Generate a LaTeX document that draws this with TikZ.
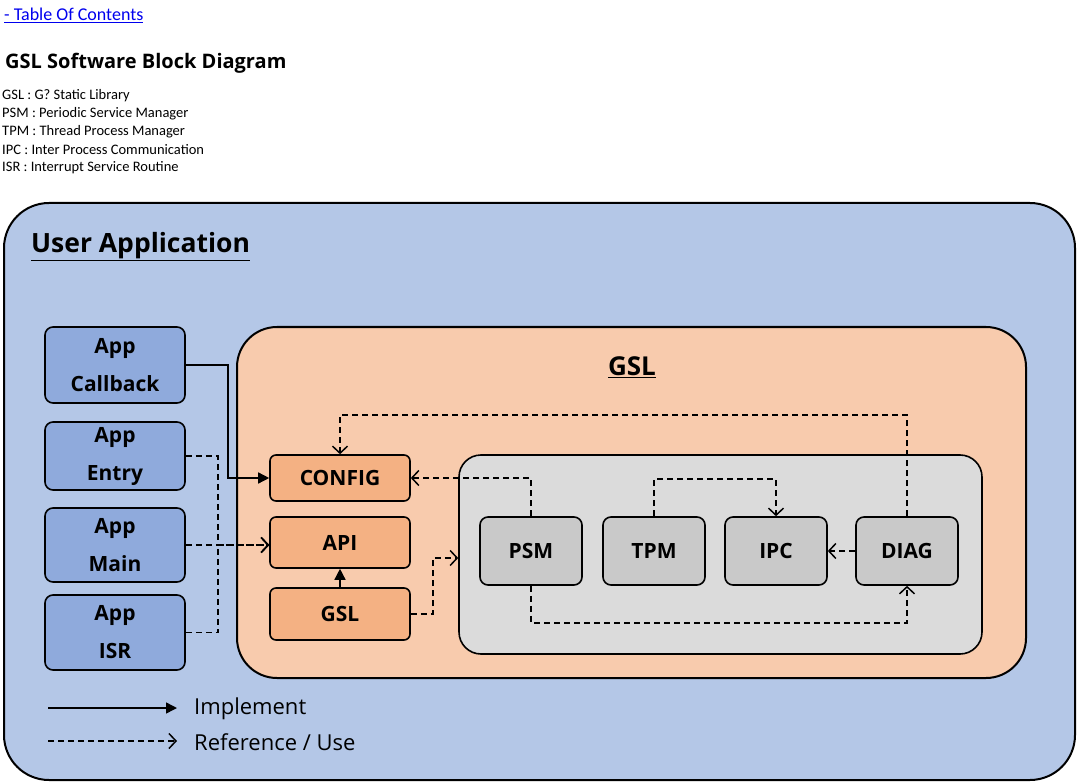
\documentclass[tikz,border=0pt]{standalone}
\usepackage{fontspec}
\setmainfont{Open Sans}
\newfontfamily\carlito{Carlito}
\usetikzlibrary{arrows.meta}
\newcommand{\fsz}[2]{\fontsize{#1}{#2}\selectfont}
\definecolor{uafill}{HTML}{B4C7E7}
\definecolor{appfill}{HTML}{8FAADC}
\definecolor{gslfill}{HTML}{F8CBAD}
\definecolor{modfill}{HTML}{F4B183}
\definecolor{corefill}{HTML}{DBDBDB}
\definecolor{subfill}{HTML}{C9C9C9}
\definecolor{linkblue}{HTML}{0000EE}

\begin{document}
\begin{tikzpicture}[x=1pt,y=-1pt,
  frame/.style={draw,line width=1.6pt},
  appbox/.style={frame,rounded corners=8pt,fill=appfill,minimum width=140pt,
    align=center,inner sep=0pt,font=\bfseries\fsz{21}{38}},
  modbox/.style={frame,rounded corners=6pt,fill=modfill,minimum width=140pt,
    inner sep=0pt,font=\bfseries\fsz{21}{25}},
  subbox/.style={frame,rounded corners=8pt,fill=subfill,minimum width=102pt,
    minimum height=68pt,inner sep=0pt,font=\bfseries\fsz{21}{25}},
  txt/.style={anchor=west,inner sep=0pt},
  abbr/.style={txt,font=\carlito\fsz{14.5}{18}},
  impl/.style={line width=1.5pt,-{Triangle[length=11pt,width=11pt]}},
  refer/.style={line width=1.5pt,dash pattern=on 6pt off 4pt,
    -{Straight Barb[length=7pt,width=15pt]}}]
\useasboundingbox (0,0) rectangle (1078,783);
\node[txt,font=\carlito\fsz{18}{20},text=linkblue] (toc) at (4,15) {\underline{- Table Of Contents}};
\node[txt,font=\bfseries\fsz{20}{24}] (doctitle) at (5,63) {GSL Software Block Diagram};
\node[abbr] (abbr1) at (2,96) {GSL : G? Static Library};
\node[abbr] (abbr2) at (2,114) {PSM : Periodic Service Manager};
\node[abbr] (abbr3) at (2,132) {TPM : Thread Process Manager};
\node[abbr] (abbr4) at (2,150) {IPC : Inter Process Communication};
\node[abbr] (abbr5) at (2,168) {ISR : Interrupt Service Routine};

\node[frame,line width=2pt,rounded corners=45pt,fill=uafill,minimum width=1071pt,minimum height=577pt] (ua) at (539.5,491.5) {};
\node[txt,font=\bfseries\fsz{26.5}{30}] (uatitle) at (31,247) {\underline{User Application}};
\node[frame,line width=2pt,rounded corners=40pt,fill=gslfill,minimum width=789pt,minimum height=351pt] (gslbox) at (631.5,502.5) {};
\node[font=\bfseries\fsz{26}{30}] (gsltitle) at (632,367) {\underline{GSL}};
\node[frame,rounded corners=22pt,fill=corefill,minimum width=523pt,minimum height=199pt] (core) at (720.5,554.5) {};

\node[appbox,minimum height=76pt] (callback) at (115,365) {App\\Callback};
\node[appbox,minimum height=68pt] (entry) at (115,456) {App\\Entry};
\node[appbox,minimum height=74pt] (main) at (115,545) {App\\Main};
\node[appbox,minimum height=75pt] (isr) at (115,632.5) {App\\ISR};

\node[modbox,minimum height=46pt] (config) at (340,478) {CONFIG};
\node[modbox,minimum height=51pt] (api) at (340,542.5) {API};
\node[modbox,minimum height=52pt] (gsl) at (340,614) {GSL};

\node[subbox] (psm) at (531,551) {PSM};
\node[subbox] (tpm) at (654,551) {TPM};
\node[subbox] (ipc) at (776,551) {IPC};
\node[subbox] (diag) at (907,551) {DIAG};

\draw[impl] (callback.east) -- ++(42,0) |- (config.west);
\draw[refer] (entry.east) -- ++(32,0) |- (main.east -| api.west);
\draw[refer] (isr.east) -- ++(32,0) |- (main.east -| api.west);
\draw[refer] (main.east) -- (main.east -| api.west);
\draw[impl] (gsl.north) -- (api.south);
\draw[refer] (gsl.east) -- ++(22,0) |- ([yshift=-3.5pt]core.west);
\draw[refer] (psm.north) |- (config.east);
\draw[refer] (tpm.north) -- ++(0,-37) -| (ipc.north);
\draw[refer] (diag.west) -- (ipc.east);
\draw[refer] (diag.north) -- ++(0,-101) -| (config.north);
\draw[refer] (psm.south) -- ++(0,37) -| (diag.south);

\coordinate (impla) at (48,708);
\coordinate (implb) at (177,708);
\coordinate (refa) at (48,741);
\coordinate (refb) at (177,741);
\draw[impl] (impla) -- (implb);
\draw[refer] (refa) -- (refb);
\node[txt,font=\fsz{22}{26}] (impltext) at (194,709) {Implement};
\node[txt,font=\fsz{22}{26}] (reftext) at (194,742) {Reference / Use};
\end{tikzpicture}
\end{document}
